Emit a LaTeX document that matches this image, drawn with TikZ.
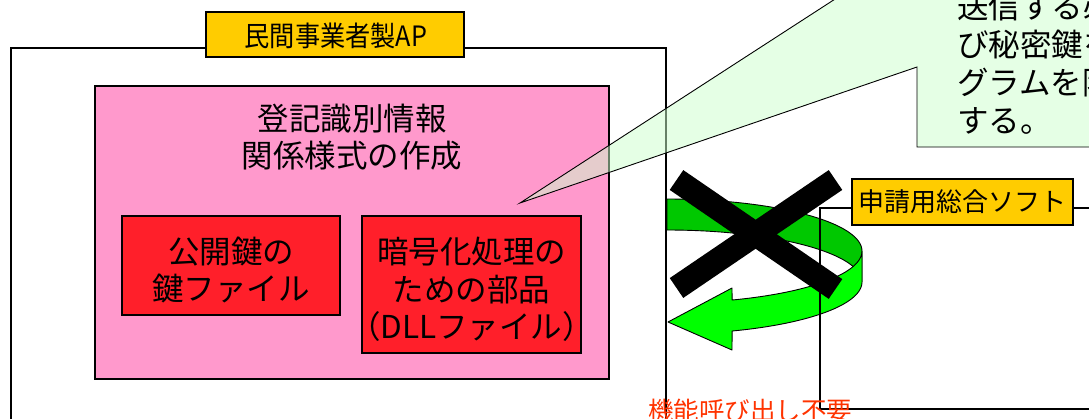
\documentclass[tikz,border=0pt]{standalone}
\usepackage{fontspec}
\setmainfont{Noto Sans CJK JP}
\definecolor{labelyellow}{HTML}{FFCC00}
\definecolor{boxpink}{HTML}{FF99CC}
\definecolor{boxred}{HTML}{FF1F2A}
\definecolor{ribbondark}{HTML}{00C800}
\definecolor{ribbonlight}{HTML}{00FF00}
\definecolor{calloutgreen}{HTML}{CCFFCC}
\definecolor{notered}{HTML}{FF3300}
\begin{document}
\begin{tikzpicture}[x=1pt,y=-1pt,
  every node/.style={inner sep=0pt,outer sep=0pt},
  frameline/.style={draw=black,line width=1.1pt},
  tagbox/.style={draw=black,line width=1.3pt,fill=labelyellow},
  pinkbox/.style={draw=black,line width=1.1pt,fill=boxpink},
  redbox/.style={draw=black,line width=1.1pt,fill=boxred},
  bigtext/.style={align=center,font=\fontsize{31.5}{37.5}\selectfont},
  callout/.style={draw=black,line width=0.9pt,fill=calloutgreen,fill opacity=0.5},
  calltext/.style={anchor=west,font=\fontsize{31.5}{37}\selectfont},
  rib/.style={draw=black,line width=0.9pt,line join=round},
  crossbar/.style={draw=black,line width=24pt,line cap=butt}
]
\useasboundingbox (0,0) rectangle (1089,418);
\clip (0,0) rectangle (1089,418);

% AP frame and its label
\node[tagbox,minimum width=258pt,minimum height=45pt] (aplabel) at (335,34.5) {};
\node[font=\fontsize{28}{30}\selectfont,xscale=0.9] (aptext) at (336,36) {民間事業者製AP};
\coordinate (apTL) at (11,48);
\coordinate (apTR) at (666,48);
\draw[frameline] (aplabel.west |- apTL) -- (apTL) -- (11,440);
\draw[frameline] (aplabel.east |- apTR) -- (apTR) -- (666,440);

% pink box
\node[pinkbox,minimum width=514pt,minimum height=293pt] (pink) at (352,232.5) {};
\node[bigtext] (pinktitle) at (352,137) {登記識別情報\\関係様式の作成};

% red boxes
\node[redbox,minimum width=218pt,minimum height=99pt] (keybox) at (231,265.5) {};
\node[bigtext] (keytext) at (231,270) {公開鍵の\\鍵ファイル};
\node[redbox,minimum width=219pt,minimum height=137pt] (dllbox) at (471.5,284.5) {};
\node[bigtext] (dlltext) at (471.5,289.5) {暗号化処理の\\ための部品\\（DLLファイル）};

% callout
\coordinate (tip) at (520,203);
\draw[callout] (tip) -- (917,-54) -- (917,-120) -- (1130,-120) -- (1130,147) -- (917,147) -- (917,67) -- cycle;
\node[calltext] (c1) at (957,7) {送信する必要};
\node[calltext] (c2) at (957,45) {び秘密鍵を};
\node[calltext] (c3) at (957,83) {グラムを隠蔽};
\node[calltext] (c4) at (957,121) {する。};

% green circular ribbon arrow
\fill[ribbondark,rib]
  plot[domain=90:0,samples=40,variable=\t] ({667+195*cos(\t)},{251-52*sin(\t)})
  -- plot[domain=0:90,samples=40,variable=\t] ({667+195*cos(\t)},{282-52*sin(\t)})
  -- cycle;
\fill[ribbonlight,rib]
  plot[domain=0:-70.5,samples=40,variable=\t] ({667+195*cos(\t)},{251-52*sin(\t)})
  -- (732,288) -- (668,322) -- (732,350)
  -- plot[domain=-70.5:0,samples=40,variable=\t] ({667+195*cos(\t)},{282-52*sin(\t)})
  -- cycle;

% application software frame and label
\node[tagbox,minimum width=221pt,minimum height=46pt,font=\fontsize{26}{30}\selectfont] (softlabel) at (962.5,202) {申請用総合ソフト};
\coordinate (sfTL) at (820,208);
\coordinate (sfBL) at (820,409);
\draw[frameline] (softlabel.west |- sfTL) -- (sfTL) -- (sfBL) -- (1120,409);
\draw[frameline] (softlabel.east |- sfTL) -- (1120,208);

% cross
\draw[crossbar] (676.5,180) -- (835.5,289);
\draw[crossbar] (835.5,180) -- (676.5,288);

% note
\node[anchor=base west,text=notered,font=\fontsize{25.5}{30}\selectfont] (note) at (648,420) {機能呼び出し不要};
\end{tikzpicture}
\end{document}
